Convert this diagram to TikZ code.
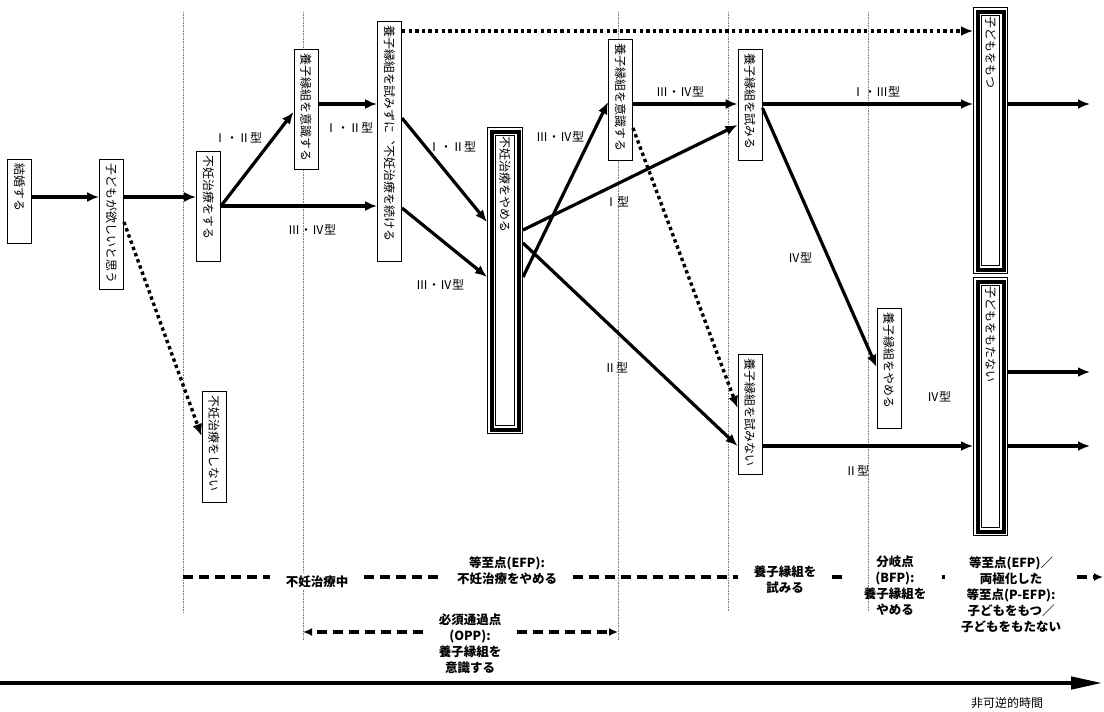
\documentclass[tikz,border=0pt]{standalone}
\usepackage{fontspec}
\usepackage{graphicx}
\setmainfont{Noto Sans CJK JP}
\newfontfamily\vjp[Vertical=RotatedGlyphs]{Noto Sans CJK JP}
\usetikzlibrary{arrows.meta}
\newcommand\boxfont{\fontsize{12}{14}\selectfont}
\newcommand\tagfont{\fontsize{12}{14}\selectfont}
\newcommand\phasefont{\fontsize{12.5}{16}\selectfont\bfseries}
\newcommand\vtxt[2]{\rotatebox{-90}{\makebox[#1pt][l]{\vjp #2}}}
\tikzset{
 stagebox/.style={draw,line width=0.9pt,fill=white,inner xsep=5pt,inner ysep=4pt,minimum width=24pt,anchor=north,font=\boxfont},
 goalbox/.style={draw,line width=1pt,fill=white,inner xsep=10pt,inner ysep=9pt,minimum width=34pt,anchor=north,font=\boxfont},
 flow/.style={line width=3.2pt,-{Latex[length=12pt,width=10pt]}},
 hint/.style={line width=3.4pt,dash pattern=on 3.4pt off 3.2pt,-{Latex[length=12pt,width=10pt]}},
 guide/.style={gray,line width=0.6pt,densely dotted},
 timeline/.style={line width=3.2pt,dash pattern=on 10pt off 6pt},
 phase/.style={font=\phasefont,inner xsep=16pt,inner ysep=2pt,align=center},
}

\begin{document}
\begin{tikzpicture}[x=1pt,y=-1pt,font=\tagfont]
\useasboundingbox (0,0) rectangle (1104,712);
% time frames
\foreach \x/\y in {183/613,303/640,618/640,728/612,868/612}
 \draw[guide] (\x,12) -- (\x,\y);

% stages
\node[stagebox] (marry) at (19.5,159) {\vtxt{76}{結婚する}};
\node[stagebox] (want) at (111.5,159) {\vtxt{122}{子どもが欲しいと思う}};
\node[stagebox] (treat) at (208.5,151) {\vtxt{102}{不妊治療をする}};
\node[stagebox] (notreat) at (214,391) {\vtxt{103}{不妊治療をしない}};
\node[stagebox] (aware) at (306,49) {\vtxt{112}{養子縁組を意識する}};
\node[stagebox] (cont) at (389.5,21) {\vtxt{232}{養子縁組を試みずに、不妊治療を続ける}};
\node[goalbox,minimum width=35pt] (stop) at (505,127) {\vtxt{288}{不妊治療をやめる}};
\node[stagebox] (aware2) at (620.5,39) {\vtxt{113}{養子縁組を意識する}};
\node[stagebox] (try) at (750,49) {\vtxt{103}{養子縁組を試みる}};
\node[stagebox] (notry) at (750,354) {\vtxt{112}{養子縁組を試みない}};
\node[stagebox] (quitad) at (889,308) {\vtxt{112}{養子縁組をやめる}};
\node[goalbox] (have) at (990.5,7) {\vtxt{248}{子どもをもつ}};
\node[goalbox] (nothave) at (990.5,277) {\vtxt{240}{子どもをもたない}};
\foreach \n in {stop,have,nothave}{
 \draw[line width=4pt] ([shift={(4.5pt,-4.5pt)}]\n.north west) rectangle ([shift={(-4.5pt,4.5pt)}]\n.south east);
 \draw[line width=0.9pt] ([shift={(8.4pt,-8.4pt)}]\n.north west) rectangle ([shift={(-8.4pt,8.4pt)}]\n.south east);
}

% paths
\draw[flow] (marry.east |- 0,197) -- (want.west |- 0,197);
\draw[flow] (want.east |- 0,197) -- (treat.west |- 0,197);
\draw[hint] (want.east |- 0,222) -- (notreat.west |- 0,436);
\draw[flow] (treat.east |- 0,206) -- (aware.west |- 0,112);
\draw[flow] (treat.east |- 0,206) -- (cont.west |- 0,206);
\draw[flow] (aware.east |- 0,104) -- (cont.west |- 0,104);
\draw[hint] (cont.east |- 0,31) -- (have.west |- 0,31);
\draw[flow] (cont.east |- 0,118) -- (stop.west |- 0,222);
\draw[flow] (cont.east |- 0,208) -- (stop.west |- 0,277);
\draw[flow] (stop.east |- 0,277) -- (aware2.west |- 0,102);
\draw[flow] (stop.east |- 0,230) -- (try.west |- 0,125);
\draw[flow] (stop.east |- 0,243) -- (notry.west |- 0,446);
\draw[flow] (aware2.east |- 0,104) -- (try.west |- 0,104);
\draw[hint] (aware2.east |- 0,128) -- (notry.west |- 0,408);
\draw[flow] (try.east |- 0,104) -- (have.west |- 0,104);
\draw[flow] (try.east |- 0,108) -- (quitad.west |- 0,367);
\draw[flow] (notry.east |- 0,446) -- (nothave.west |- 0,446);
\coordinate (out1) at (1090,104);
\coordinate (out2) at (1090,372);
\coordinate (out3) at (1090,446);
\draw[flow] (have.east |- out1) -- (out1);
\draw[flow] (nothave.east |- out2) -- (out2);
\draw[flow] (nothave.east |- out3) -- (out3);

% types
\node at (238,138) {Ⅰ・Ⅱ型};
\node at (349,128) {Ⅰ・Ⅱ型};
\node at (312,230) {Ⅲ・Ⅳ型};
\node at (452,147) {Ⅰ・Ⅱ型};
\node at (440,285) {Ⅲ・Ⅳ型};
\node at (560,137) {Ⅲ・Ⅳ型};
\node at (617,202) {Ⅰ型};
\node at (616,368) {Ⅱ型};
\node at (680,92) {Ⅲ・Ⅳ型};
\node at (800,258) {Ⅳ型};
\node at (876,92) {Ⅰ・Ⅲ型};
\node at (939,397) {Ⅳ型};
\node at (857,471) {Ⅱ型};

% phases
\node[phase,fill=white] (p1) at (317,582) {不妊治療中};
\node[phase] (p2) at (507,571) {等至点(EFP):\\不妊治療をやめる};
\node[phase] (p3) at (785,580) {養子縁組を\\試みる};
\node[phase] (p4) at (895,586) {分岐点\\(BFP):\\養子縁組を\\やめる};
\node[phase] (p5) at (1011,595) {等至点(EFP)／\\両極化した\\等至点(P-EFP):\\子どもをもつ／\\子どもをもたない};
\node[phase] (opp) at (470,644) {必須通過点\\(OPP):\\養子縁組を\\意識する};
\draw[timeline] (183,577) -- (p1.west |- 0,577);
\draw[timeline] (p1.east |- 0,577) -- (p2.west |- 0,577);
\draw[timeline] (p2.east |- 0,577) -- (p3.west |- 0,577);
\draw[timeline] (p3.east |- 0,577) -- (p4.west |- 0,577);
\draw[timeline] (p4.east |- 0,577) -- (p5.west |- 0,577);
\draw[timeline,-{Latex[length=9pt,width=8pt]}] (p5.east |- 0,577) -- (1103,577);
\draw[timeline,-{Latex[length=9pt,width=8pt]}] (opp.west |- 0,632) -- (303,632);
\draw[timeline,-{Latex[length=9pt,width=8pt]}] (opp.east |- 0,632) -- (618,632);

% irreversible time
\coordinate (t0) at (0,683);
\coordinate (t1) at (1103,683);
\draw[line width=4.5pt,-{Triangle[length=32pt,width=12pt]}] (t0) -- (t1);
\node[font=\fontsize{12}{14}\selectfont] (tlabel) at (1007,703) {非可逆的時間};
\end{tikzpicture}
\end{document}
